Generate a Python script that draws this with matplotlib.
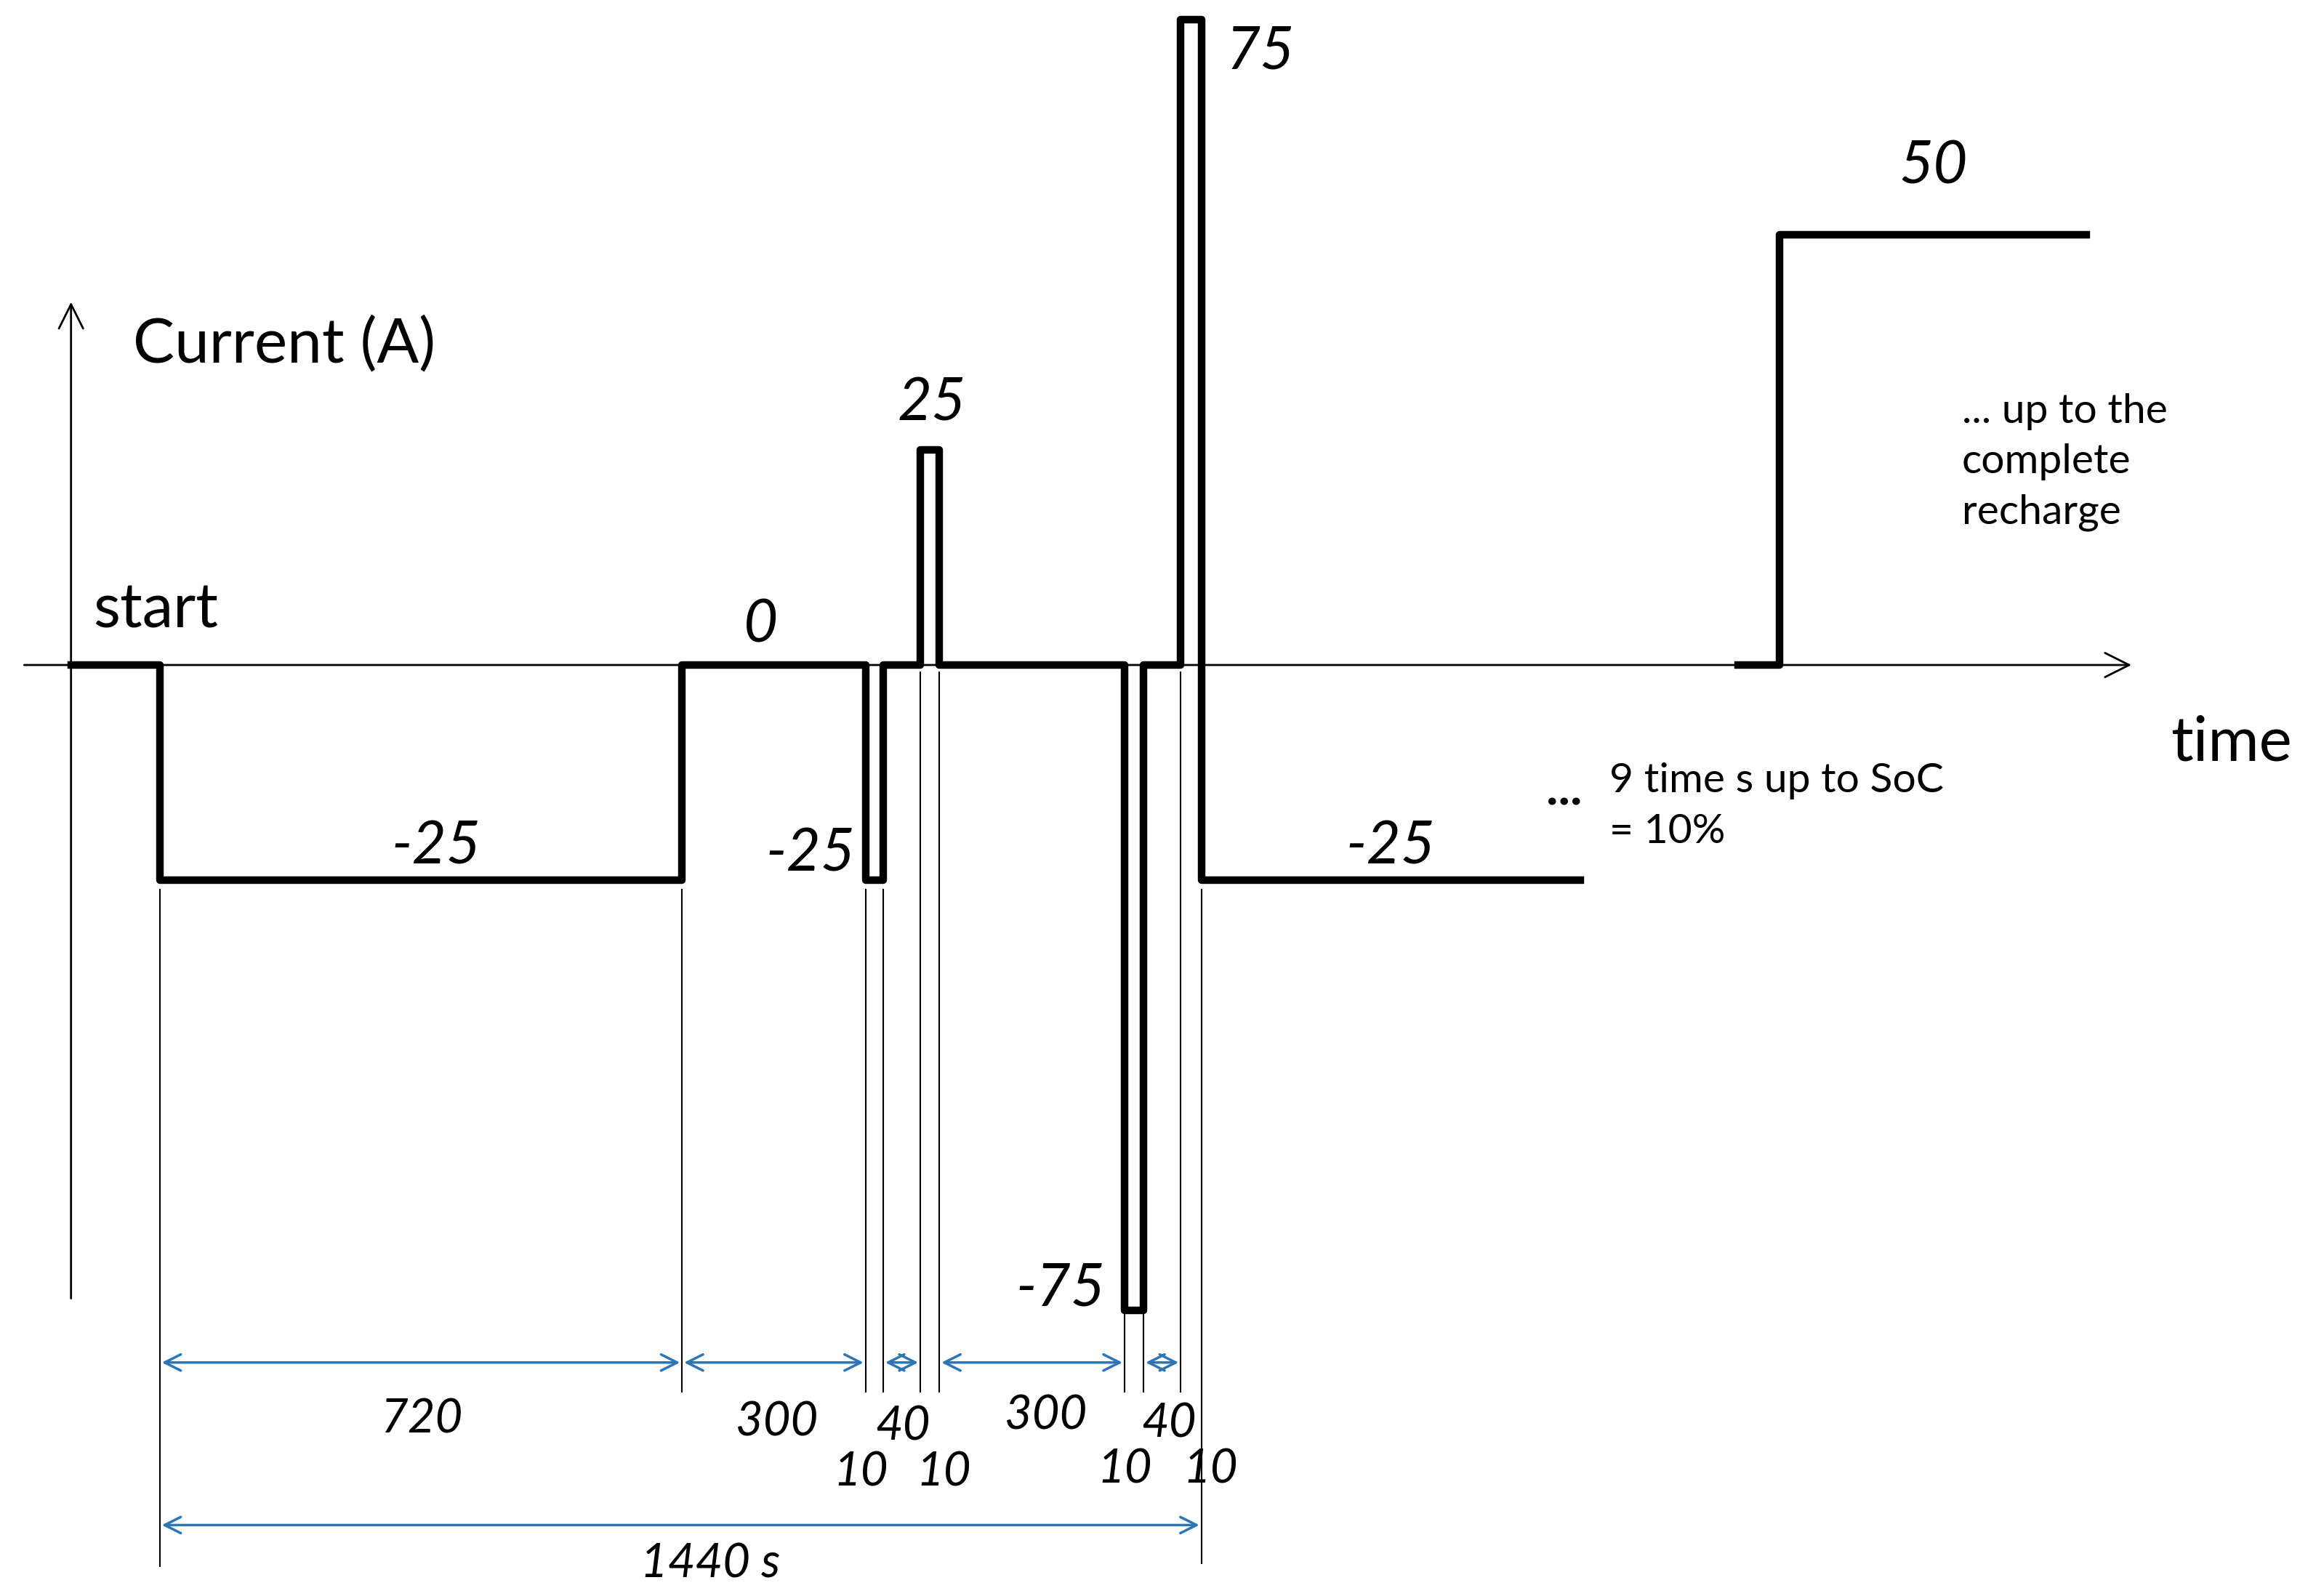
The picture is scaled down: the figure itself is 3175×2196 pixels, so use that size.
import matplotlib.pyplot as plt
import numpy as np

# schematic time positions (drawing units) and currents (A)
t_edges = [48, 108, 461, 585, 597, 622, 635, 760, 773, 798, 812, 1068]
currents = [0, -25, 0, -25, 0, 25, 0, -75, 0, 75, -25]
t_edges2 = [1175, 1203, 1410]
currents2 = [0, 50]

dim_spans = [(108, 461), (461, 585), (597, 622), (635, 760), (773, 798)]
dim_labels = [("720", 285, 960), ("300", 525, 962), ("40", 610, 965), ("10", 582, 996),
              ("10", 638, 996), ("300", 707, 958), ("40", 790, 963), ("10", 760, 994),
              ("10", 818, 994)]
level_labels = [("-25", 295, 573), ("-25", 548, 578), ("0", 514, 423), ("25", 630, 273),
                ("75", 852, 35), ("-75", 717, 872), ("-25", 940, 573), ("50", 1307, 113)]

SCALE = 5.82  # px per A


def py(y):
    return (450 - y) / SCALE


plt.rcParams['font.family'] = ['Lato', 'DejaVu Sans']
fig = plt.figure(figsize=(31.75, 21.96), dpi=100)
ax = fig.add_axes([0, 0, 1, 1])
ax.set_xlim(0, 1560)
ax.set_ylim(py(1080), py(0))
ax.axis('off')

k = 1.465  # display px -> pt

# axes arrows
ax.annotate("", xy=(48, py(203)), xytext=(48, py(880)),
            arrowprops=dict(arrowstyle="->", lw=2, color="black", mutation_scale=60))
ax.annotate("", xy=(1442, 0), xytext=(15, 0),
            arrowprops=dict(arrowstyle="->", lw=2, color="black", mutation_scale=60))

# current profile
ax.step(t_edges, currents + [currents[-1]], where='post', color='black', lw=7.5)
ax.step(t_edges2, currents2 + [currents2[-1]], where='post', color='black', lw=7.5)

# thin extension lines
ext = [(108, 602, 1060), (461, 602, 942), (585, 602, 942), (597, 602, 942),
       (622, 455, 942), (635, 455, 942), (760, 888, 942), (773, 888, 942),
       (798, 455, 942), (812, 602, 1058)]
for x, y0, y1 in ext:
    ax.plot([x, x], [py(y0), py(y1)], color='black', lw=1.5)

blue = '#2E75B6'
for a, b in dim_spans:
    ax.annotate("", xy=(a, py(922)), xytext=(b, py(922)),
                arrowprops=dict(arrowstyle="<->", lw=2.5, color=blue, mutation_scale=40))
ax.annotate("", xy=(108, py(1032)), xytext=(812, py(1032)),
            arrowprops=dict(arrowstyle="<->", lw=2.5, color=blue, mutation_scale=40))

for s, x, y in dim_labels:
    ax.text(x, py(y), s, fontsize=32 * k, style='italic', ha='center', va='center')
ax.text(480, py(1058), "1440 s", fontsize=32 * k, style='italic', ha='center', va='center')
for s, x, y in level_labels:
    ax.text(x, py(y), s, fontsize=40 * k, style='italic', ha='center', va='center')

ax.text(90, py(233), "Current (A)", fontsize=42 * k, ha='left', va='center')
ax.text(63, py(413), "start", fontsize=42 * k, ha='left', va='center')
ax.text(1508, py(503), "time", fontsize=42 * k, ha='center', va='center')
ax.text(1326, py(266), "... up to the\ncomplete\nrecharge", fontsize=28 * k,
        ha='left', va='top', linespacing=1.45)
ax.text(1057, py(535), "...", fontsize=34 * k, fontweight='bold', ha='center', va='center')
ax.text(1088, py(516), "9 time s up to SoC\n= 10%", fontsize=28 * k,
        ha='left', va='top', linespacing=1.45)

fig.savefig("out.png", dpi=100, facecolor='white')
